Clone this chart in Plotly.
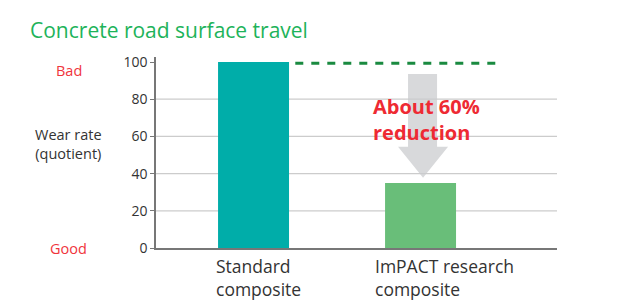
import plotly.graph_objects as go

categories = ["Standard<br>composite", "ImPACT research<br>composite"]
wear_rate = [100, 35]
bar_colors = ["#00ada9", "#69be79"]
y_ticks = [0, 20, 40, 60, 80, 100]
grid_vals = [20, 40, 60, 80]
title_text = "Concrete road surface travel"
note_text = "About 60%<br>reduction"

fig = go.Figure()
fig.add_trace(go.Bar(
    x=[0, 1], y=wear_rate, width=0.425,
    marker=dict(color=bar_colors, line=dict(width=0)),
    hoverinfo="skip",
))

shapes = []
for g in grid_vals:
    shapes.append(dict(type="line", xref="paper", yref="y", x0=0, x1=1, y0=g, y1=g,
                       line=dict(color="#cccccc", width=1.2), layer="below"))
# dashed reference line at standard level
shapes.append(dict(type="line", xref="x", yref="y", x0=0.25, x1=1.495,
                   y0=wear_rate[0] - 0.6, y1=wear_rate[0] - 0.6,
                   line=dict(color="#1a8a40", width=3, dash="8px,8px"), layer="above"))
# reduction arrow (pixel widths around category 1)
top = 93.5
head_base = 54.5
tip = wear_rate[1] + 2.8
path = (f"M -15,{top} L 14,{top} L 14,{head_base} L 25,{head_base} "
        f"L 0,{tip} L -25,{head_base} L -15,{head_base} Z")
shapes.append(dict(type="path", xref="x", yref="y", xsizemode="pixel", xanchor=1.015,
                   path=path, fillcolor="#c9cbcd", opacity=0.72, line=dict(width=0),
                   layer="above"))

label_shifts = [-40, -48]

annotations = [
    dict(text=title_text, xref="paper", yref="paper", x=-0.318, y=1.141, xanchor="left",
         yanchor="middle", showarrow=False,
         font=dict(family="Open Sans", size=21, color="#1db35a")),
    dict(text=note_text, xref="x", yref="y", x=0.705, y=69, xanchor="left", yanchor="middle",
         showarrow=False, align="left",
         font=dict(family="Open Sans", size=20, color="#ee2a33", weight="bold")),
    dict(text="Bad", xref="paper", yref="y", x=-0.217, y=95.5, xanchor="center",
         yanchor="middle", showarrow=False,
         font=dict(family="Open Sans", size=14.5, color="#f0343c")),
    dict(text="Good", xref="paper", yref="y", x=-0.217, y=0, xanchor="center",
         yanchor="middle", showarrow=False,
         font=dict(family="Open Sans", size=14.5, color="#f0343c")),
    dict(text="Wear rate<br>(quotient)", xref="paper", yref="y", x=-0.217, y=56,
         xanchor="center", yanchor="middle", showarrow=False, align="center",
         font=dict(family="Open Sans", size=14.5, color="#333333")),
]
for i, c in enumerate(categories):
    annotations.append(dict(text=c, xref="x", yref="paper", x=i, y=-0.02,
                            xshift=label_shifts[i],
                            xanchor="left", yanchor="top", showarrow=False, align="left",
                            font=dict(family="Open Sans", size=17.5, color="#333333")))

fig.update_layout(
    width=620, height=305,
    margin=dict(l=156, r=63, t=57, b=57),
    paper_bgcolor="white", plot_bgcolor="white",
    showlegend=False,
    shapes=shapes, annotations=annotations,
    xaxis=dict(range=[-0.584, 1.817], showticklabels=False, ticks="", showgrid=False,
               zeroline=False, showline=True, linecolor="#777777", linewidth=1.5,
               fixedrange=True),
    yaxis=dict(range=[0, 102.7], tickvals=y_ticks, ticks="outside", ticklen=4,
               tickcolor="#777777", showgrid=False, zeroline=False, showline=True,
               linecolor="#777777", linewidth=1.5,
               tickfont=dict(family="Open Sans", size=14, color="#333333"),
               fixedrange=True),
)

fig.write_html("out.html")
